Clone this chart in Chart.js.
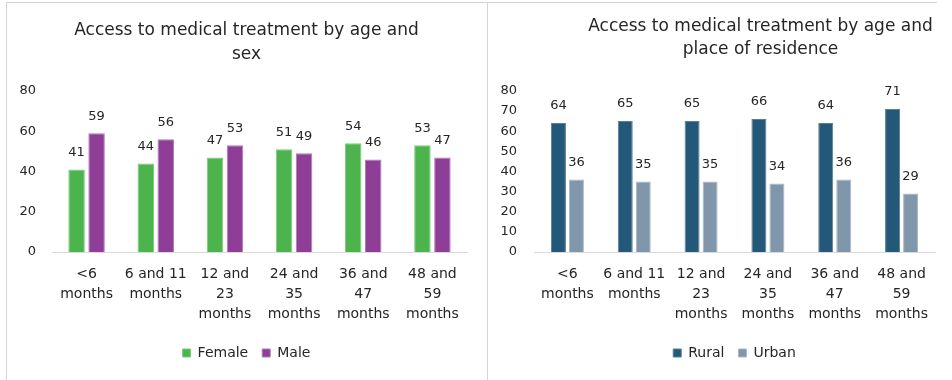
<!DOCTYPE html>
<html>
<head>
<meta charset="utf-8">
<script src="https://cdn.jsdelivr.net/npm/chart.js@4"></script>
<style>
  html, body { margin: 0; padding: 0; background: #fff; overflow: hidden; }
  body { width: 952px; height: 380px; position: relative; }
  .frame-top { position: absolute; left: 6px; top: 2px; width: 931px; height: 1px; background: #d4d4d4; }
  .frame-left { position: absolute; left: 6px; top: 2px; width: 1px; height: 378px; background: #d4d4d4; }
  .frame-mid { position: absolute; left: 487px; top: 2px; width: 1px; height: 378px; background: #d4d4d4; }
  #sexChart { position: absolute; left: 0; top: 0; }
  #residenceChart { position: absolute; left: 480px; top: 0; }
</style>
</head>
<body>
<div class="frame-top"></div>
<div class="frame-left"></div>
<div class="frame-mid"></div>
<canvas id="sexChart" width="477" height="380"></canvas>
<canvas id="residenceChart" width="547" height="380"></canvas>
<script>
const ageGroups = [
  ['<6', 'months'],
  ['6 and 11', 'months'],
  ['12 and', '23', 'months'],
  ['24 and', '35', 'months'],
  ['36 and', '47', 'months'],
  ['48 and', '59', 'months']
];
const femaleValues = [41, 44, 47, 51, 54, 53];
const maleValues = [59, 56, 53, 49, 46, 47];
const ruralValues = [64, 65, 65, 66, 64, 71];
const urbanValues = [36, 35, 35, 34, 36, 29];

const FONT = '"DejaVu Sans", Verdana, sans-serif';
const TEXT = '#262626';
const AXIS_LINE = '#d9d9d9';

// numbers above each bar
const valueLabels = {
  id: 'valueLabels',
  afterDatasetsDraw(chart) {
    const ctx = chart.ctx;
    ctx.save();
    ctx.font = '13px ' + FONT;
    ctx.fillStyle = TEXT;
    ctx.textAlign = 'center';
    ctx.textBaseline = 'middle';
    chart.data.datasets.forEach((ds, i) => {
      chart.getDatasetMeta(i).data.forEach((bar, j) => {
        ctx.fillText(ds.data[j], bar.x, bar.y - 17);
      });
    });
    ctx.restore();
  }
};

function xAxis() {
  return {
    grid: { display: false, drawTicks: false },
    border: { display: true, color: AXIS_LINE, width: 1 },
    ticks: {
      color: TEXT,
      font: { family: FONT, size: 14, lineHeight: 1.43 },
      padding: 12,
      maxRotation: 0,
      autoSkip: false
    },
    afterFit(s) { s.height = 80; }
  };
}

// blank strip on the right, lets the title extend past the plot
function gutter(width) {
  return {
    position: 'right',
    display: true,
    grid: { display: false, drawTicks: false },
    border: { display: false },
    ticks: { display: false },
    afterFit(s) { s.width = width; }
  };
}

function legendOpts(fullSize) {
  return {
    position: 'bottom',
    fullSize: fullSize,
    labels: {
      color: TEXT,
      font: { family: FONT, size: 14 },
      boxWidth: 8,
      boxHeight: 8,
      padding: 14
    }
  };
}

new Chart(document.getElementById('sexChart'), {
  type: 'bar',
  data: {
    labels: ageGroups,
    datasets: [{
      label: 'Female',
      data: femaleValues,
      backgroundColor: '#4db34d',
      borderColor: '#7fcb7f',
      borderWidth: 1,
      categoryPercentage: 0.578,
      barPercentage: 0.825
    }, {
      label: 'Male',
      data: maleValues,
      backgroundColor: '#8e3e96',
      borderColor: '#b07ab6',
      borderWidth: 1,
      categoryPercentage: 0.578,
      barPercentage: 0.825
    }]
  },
  options: {
    responsive: false,
    animation: false,
    layout: { padding: { left: 16, right: 0, top: 0, bottom: 10 } },
    plugins: {
      title: {
        display: true,
        text: ['Access to medical treatment by age and', 'sex'],
        color: TEXT,
        font: { family: FONT, size: 17, weight: 'normal', lineHeight: 1.41 },
        padding: { top: 19, bottom: 24 }
      },
      legend: legendOpts(true),
      tooltip: { enabled: false }
    },
    scales: {
      x: xAxis(),
      y: {
        min: 0,
        max: 80,
        grid: { display: false, drawTicks: false },
        border: { display: false },
        ticks: { stepSize: 20, color: TEXT, font: { family: FONT, size: 13 }, padding: 16 },
        afterFit(s) { s.width = 36; }
      },
      gutter: gutter(10)
    }
  },
  plugins: [valueLabels]
});

new Chart(document.getElementById('residenceChart'), {
  type: 'bar',
  data: {
    labels: ageGroups,
    datasets: [{
      label: 'Rural',
      data: ruralValues,
      backgroundColor: '#235878',
      borderColor: '#5a7f98',
      borderWidth: 1,
      categoryPercentage: 0.539,
      barPercentage: 0.833
    }, {
      label: 'Urban',
      data: urbanValues,
      backgroundColor: '#8096ab',
      borderColor: '#a9b8c6',
      borderWidth: 1,
      categoryPercentage: 0.539,
      barPercentage: 0.833
    }]
  },
  options: {
    responsive: false,
    animation: false,
    layout: { padding: { left: 14, right: 0, top: 0, bottom: 10 } },
    plugins: {
      title: {
        display: true,
        text: ['Access to medical treatment by age and', 'place of residence'],
        color: TEXT,
        font: { family: FONT, size: 17, weight: 'normal', lineHeight: 1.35 },
        padding: { top: 15.5, bottom: 29.5 }
      },
      legend: legendOpts(false),
      tooltip: { enabled: false }
    },
    scales: {
      x: xAxis(),
      y: {
        min: 0,
        max: 80,
        grid: { display: false, drawTicks: false },
        border: { display: false },
        ticks: { stepSize: 10, color: TEXT, font: { family: FONT, size: 13 }, padding: 17 },
        afterFit(s) { s.width = 40; }
      },
      gutter: gutter(92)
    }
  },
  plugins: [valueLabels]
});
</script>
</body>
</html>
